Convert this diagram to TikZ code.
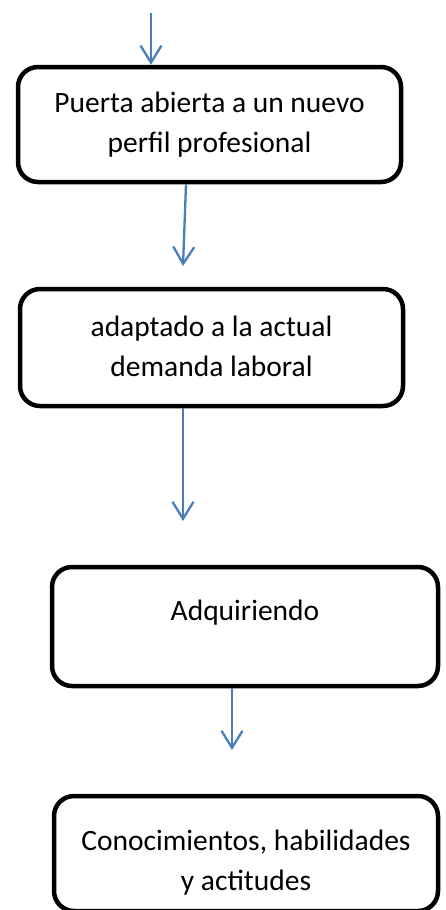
\documentclass[tikz,border=0pt]{standalone}
\usepackage{fontspec}
\setmainfont{Carlito}
\usetikzlibrary{arrows.meta}
\definecolor{arrowblue}{HTML}{4A7EBB}
\tikzset{
  stepbox/.style={draw=black, line width=4.5pt, rounded corners=20pt, fill=none, inner sep=0pt},
  steptext/.style={align=center, anchor=base, inner sep=0pt, font=\fontsize{29.5}{40}\selectfont},
  flow/.style={draw=arrowblue, line width=2.3pt, -{Straight Barb[length=17pt,width=21pt]}}
}
\begin{document}
\begin{tikzpicture}[x=1pt,y=-1pt]
  \useasboundingbox (0,0) rectangle (446,910);
  \clip (0,0) rectangle (446,910);
  % boxes
  \node[stepbox, minimum width=383pt, minimum height=115pt] (b1) at (209.5,124.5) {};
  \node[stepbox, minimum width=383pt, minimum height=117pt] (b2) at (211.5,347.5) {};
  \node[stepbox, minimum width=386pt, minimum height=119pt] (b3) at (245,626.5) {};
  \node[stepbox, minimum width=384pt, minimum height=115pt] (b4) at (246,853.5) {};
  % texts (base = baseline of last line)
  \node[steptext] (t1) at (209.5,152) {Puerta abierta a un nuevo\\perfil profesional};
  \node[steptext] (t2) at (211.5,376) {adaptado a la actual\\demanda laboral};
  \node[steptext] (t3) at (245,620) {Adquiriendo};
  \node[steptext] (t4) at (246,890) {Conocimientos, habilidades\\y actitudes};
  % coordinates
  \coordinate (c0) at (151,13);
  \coordinate (c1s) at (186,184);
  \coordinate (c1) at (183,266);
  \coordinate (c2s) at (183,408);
  \coordinate (c2) at (183,521);
  \coordinate (c3s) at (232,688);
  \coordinate (c3) at (232,750);
  % arrows
  \draw[flow] (c0) -- (c0 |- b1.north);
  \draw[flow] (c1s |- b1.south) -- (c1);
  \draw[flow] (c2s |- b2.south) -- (c2);
  \draw[flow] (c3s |- b3.south) -- (c3);
\end{tikzpicture}
\end{document}
